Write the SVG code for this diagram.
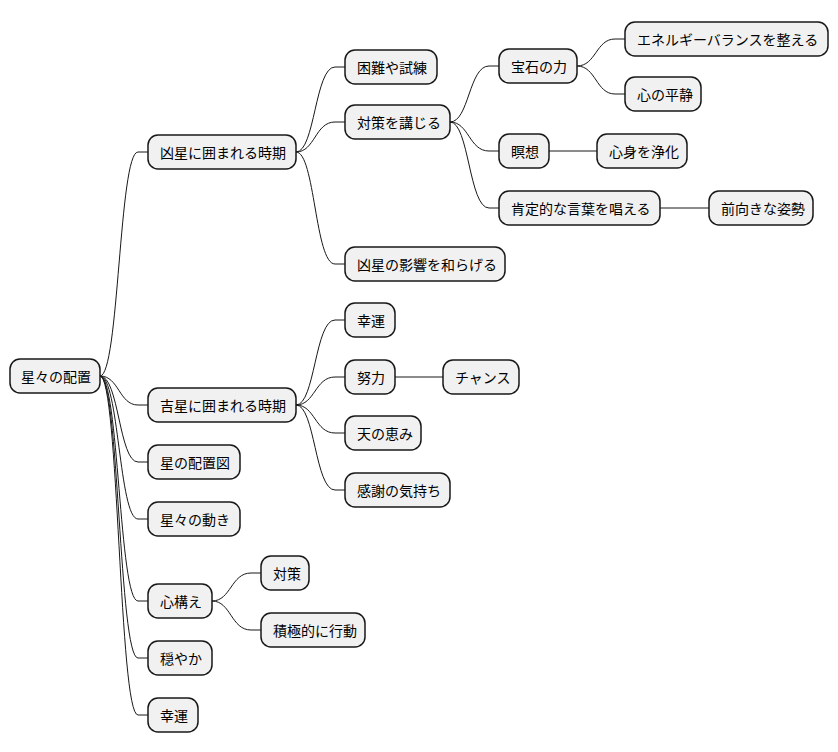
<svg xmlns="http://www.w3.org/2000/svg" width="838" height="752" viewBox="0 0 838 752">
<style>
.n{fill:#f1f1f1;stroke:#181818;stroke-width:1.5}
text{font-family:"Noto Sans CJK JP","Noto Sans",sans-serif;font-size:14px;fill:#000;dominant-baseline:central}
#edges path{fill:none;stroke:#181818;stroke-width:1}
</style>
<rect width="838" height="752" fill="#ffffff"/>
<g id="edges">
<path d="M100,376 C119,376 119,152 138,152 L148,152"/>
<path d="M100,376 C119,376 119,405 138,405 L148,405"/>
<path d="M100,376 C119,376 119,462 138,462 L148,462"/>
<path d="M100,376 C119,376 119,519 138,519 L148,519"/>
<path d="M100,376 C119,376 119,601 138,601 L148,601"/>
<path d="M100,376 C119,376 119,658 138,658 L148,658"/>
<path d="M100,376 C119,376 119,715 138,715 L148,715"/>
<path d="M296,152 C315,152 315,67 335,67 L345,67"/>
<path d="M296,152 C315,152 315,122 335,122 L345,122"/>
<path d="M296,152 C315,152 315,264 335,264 L345,264"/>
<path d="M450,122 C469,122 469,66 489,66 L499,66"/>
<path d="M450,122 C469,122 469,151 489,151 L499,151"/>
<path d="M450,122 C469,122 469,208 489,208 L499,208"/>
<path d="M577,66 C596,66 596,39 615,39 L625,39"/>
<path d="M577,66 C596,66 596,94 615,94 L625,94"/>
<path d="M549,151 L597,151"/>
<path d="M660,208 L709,208"/>
<path d="M296,405 C315,405 315,320 335,320 L345,320"/>
<path d="M296,405 C315,405 315,377 335,377 L345,377"/>
<path d="M296,405 C315,405 315,433 335,433 L345,433"/>
<path d="M296,405 C315,405 315,490 335,490 L345,490"/>
<path d="M395,377 L443,377"/>
<path d="M212,601 C231,601 231,573 251,573 L261,573"/>
<path d="M212,601 C231,601 231,630 251,630 L261,630"/>
</g>
<g id="n0"><rect class="n" x="10" y="359" width="90" height="34" rx="10"/><text x="21" y="376">星々の配置</text></g>
<g id="n1"><rect class="n" x="148" y="135" width="148" height="34" rx="10"/><text x="160" y="152">凶星に囲まれる時期</text></g>
<g id="n2"><rect class="n" x="148" y="388" width="148" height="34" rx="10"/><text x="160" y="405">吉星に囲まれる時期</text></g>
<g id="n3"><rect class="n" x="148" y="445" width="92" height="34" rx="10"/><text x="160" y="462">星の配置図</text></g>
<g id="n4"><rect class="n" x="148" y="502" width="92" height="34" rx="10"/><text x="160" y="519">星々の動き</text></g>
<g id="n5"><rect class="n" x="148" y="584" width="64" height="34" rx="10"/><text x="160" y="601">心構え</text></g>
<g id="n6"><rect class="n" x="148" y="641" width="64" height="34" rx="10"/><text x="160" y="658">穏やか</text></g>
<g id="n7"><rect class="n" x="148" y="698" width="50" height="34" rx="10"/><text x="160" y="715">幸運</text></g>
<g id="n8"><rect class="n" x="345" y="50" width="92" height="34" rx="10"/><text x="357" y="67">困難や試練</text></g>
<g id="n9"><rect class="n" x="345" y="105" width="105" height="34" rx="10"/><text x="357" y="122">対策を講じる</text></g>
<g id="n10"><rect class="n" x="345" y="247" width="160" height="34" rx="10"/><text x="357" y="264">凶星の影響を和らげる</text></g>
<g id="n11"><rect class="n" x="499" y="49" width="78" height="34" rx="10"/><text x="511" y="66">宝石の力</text></g>
<g id="n12"><rect class="n" x="499" y="134" width="50" height="34" rx="10"/><text x="511" y="151">瞑想</text></g>
<g id="n13"><rect class="n" x="499" y="191" width="161" height="34" rx="10"/><text x="511" y="208">肯定的な言葉を唱える</text></g>
<g id="n14"><rect class="n" x="625" y="22" width="203" height="34" rx="10"/><text x="637" y="39">エネルギーバランスを整える</text></g>
<g id="n15"><rect class="n" x="625" y="77" width="76" height="34" rx="10"/><text x="637" y="94">心の平静</text></g>
<g id="n16"><rect class="n" x="597" y="134" width="90" height="34" rx="10"/><text x="609" y="151">心身を浄化</text></g>
<g id="n17"><rect class="n" x="709" y="191" width="104" height="34" rx="10"/><text x="721" y="208">前向きな姿勢</text></g>
<g id="n18"><rect class="n" x="345" y="303" width="50" height="34" rx="10"/><text x="357" y="320">幸運</text></g>
<g id="n19"><rect class="n" x="345" y="360" width="50" height="34" rx="10"/><text x="357" y="377">努力</text></g>
<g id="n20"><rect class="n" x="443" y="360" width="76" height="34" rx="10"/><text x="455" y="377">チャンス</text></g>
<g id="n21"><rect class="n" x="345" y="416" width="76" height="34" rx="10"/><text x="357" y="433">天の恵み</text></g>
<g id="n22"><rect class="n" x="345" y="473" width="105" height="34" rx="10"/><text x="357" y="490">感謝の気持ち</text></g>
<g id="n23"><rect class="n" x="261" y="556" width="48" height="34" rx="10"/><text x="273" y="573">対策</text></g>
<g id="n24"><rect class="n" x="261" y="613" width="104" height="34" rx="10"/><text x="273" y="630">積極的に行動</text></g>
</svg>
